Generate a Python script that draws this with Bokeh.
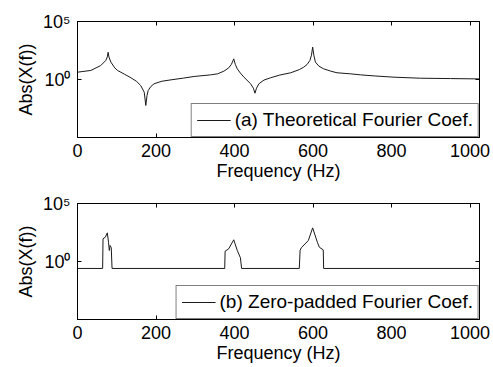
import numpy as np
from bokeh.plotting import figure
from bokeh.layouts import column
from bokeh.models import LinearAxis, LogAxis, FixedTicker, ColumnDataSource
from bokeh.embed import file_html
from bokeh.resources import INLINE

# ---- data ----
theo_freq = [0, 34, 59, 72, 76, 78, 80, 85, 95, 102, 120, 136, 150, 161, 170, 174, 177, 180,
             187, 195, 215, 238, 270, 297, 339, 357, 373, 385, 392, 398, 402, 407, 415, 424,
             441, 448, 452, 456, 462, 475, 492, 515, 543, 565, 576, 585, 592, 596, 599, 602,
             606, 615, 627, 645, 661, 695, 721, 760, 806, 874, 950, 1024]
theo_log10 = [0.63, 0.78, 1.2, 1.64, 1.95, 2.35, 1.95, 1.5, 1.0, 0.78, 0.45, 0.15, -0.15, -0.52,
              -1.1, -2.24, -1.4, -0.95, -0.6, -0.37, -0.15, -0.03, 0.12, 0.26, 0.4, 0.49, 0.72,
              1.0, 1.3, 1.78, 1.3, 0.92, 0.55, 0.2, -0.37, -0.75, -1.18, -0.75, -0.37, -0.05,
              0.15, 0.38, 0.58, 0.85, 1.06, 1.3, 1.64, 2.1, 2.79, 2.1, 1.5, 1.15, 0.92, 0.72,
              0.58, 0.49, 0.4, 0.3, 0.2, 0.11, 0.08, 0.05]

zp_freq = [0, 64, 65, 71, 76, 79, 81, 83, 86, 88, 375, 376, 385, 398, 407, 415, 418,
           565, 567, 570, 588, 599, 611, 616, 626, 627, 1024]
zp_log10 = [-0.6, -0.6, 1.96, 2.1, 2.47, 1.66, 0.95, 1.38, 1.2, -0.6, -0.6, 0.89, 1.09, 1.87,
            0.95, 0.32, -0.6, -0.6, 0.95, 1.18, 1.81, 2.9, 1.66, 1.23, 1.0, -0.6, -0.6]

x_ticks = [0, 200, 400, 600, 800, 1000]
y_ticks = [1, 100000]
y_tick_labels = {1: "10\u2070", 100000: "10\u2075"}
legend_a = "(a) Theoretical Fourier Coef."
legend_b = "(b) Zero-padded Fourier Coef."
x_label = "Frequency (Hz)"
y_label = "Abs(X(f))"

FONT = "Liberation Sans"
FS = "18px"


def make_fig(freq, logmag, label, height, top, bottom):
    p = figure(width=493, height=height, x_range=(0, 1024), y_range=(1e-5, 1e5),
               y_axis_type="log", output_backend="svg", toolbar_location=None,
               min_border_left=77, min_border_right=14, min_border_top=top,
               min_border_bottom=bottom, background_fill_color="white",
               border_fill_color="white")
    src = ColumnDataSource(dict(x=freq, y=[10.0 ** v for v in logmag]))
    p.line("x", "y", source=src, line_color="#1a1a1a", line_width=1, legend_label=label)
    p.xgrid.visible = False
    p.ygrid.visible = False
    p.outline_line_color = "black"
    p.outline_line_width = 1

    for ax in p.xaxis:
        ax.ticker = FixedTicker(ticks=x_ticks)
        ax.axis_label = x_label
        ax.major_label_standoff = 6
        ax.axis_label_standoff = 1
    for ax in p.yaxis:
        ax.ticker = FixedTicker(ticks=y_ticks)
        ax.major_label_overrides = y_tick_labels
        ax.axis_label = y_label
        ax.axis_label_standoff = 4
        ax.major_label_standoff = 7
    for ax in p.xaxis + p.yaxis:
        ax.major_tick_in = 4
        ax.major_tick_out = 0
        ax.minor_tick_line_color = None
        ax.axis_line_color = "black"
        ax.major_tick_line_color = "black"
        ax.major_label_text_font = FONT
        ax.major_label_text_font_size = FS
        ax.major_label_text_color = "black"
        ax.axis_label_text_font = FONT
        ax.axis_label_text_font_size = FS
        ax.axis_label_text_font_style = "normal"
        ax.axis_label_text_color = "black"

    top_ax = LinearAxis(ticker=FixedTicker(ticks=x_ticks), major_tick_in=4, major_tick_out=0,
                        minor_tick_line_color=None, major_label_text_font_size="1px",
                        major_label_text_color=None, major_label_standoff=0,
                        axis_line_color="black", major_tick_line_color="black")
    right_ax = LogAxis(ticker=FixedTicker(ticks=y_ticks), major_tick_in=4, major_tick_out=0,
                       minor_tick_line_color=None, major_label_text_font_size="1px",
                       major_label_text_color=None, major_label_standoff=0,
                       axis_line_color="black", major_tick_line_color="black")
    p.add_layout(top_ax, "above")
    p.add_layout(right_ax, "right")

    lg = p.legend[0]
    lg.location = "bottom_right"
    lg.margin = 0
    lg.padding = 5
    lg.spacing = 0
    lg.glyph_width = 34
    lg.glyph_height = 18
    lg.label_height = 18
    lg.label_standoff = 4
    lg.label_text_font = FONT
    lg.label_text_font_size = "19px"
    lg.label_text_color = "black"
    lg.border_line_color = "black"
    lg.border_line_width = 1
    lg.background_fill_color = "white"
    lg.background_fill_alpha = 1
    return p


p1 = make_fig(theo_freq, theo_log10, legend_a, 184, 21, 47)
p2 = make_fig(zp_freq, zp_log10, legend_b, 183, 19, 48)

layout = column(p1, p2, spacing=0)
open("out.html", "w").write(file_html(layout, INLINE))
